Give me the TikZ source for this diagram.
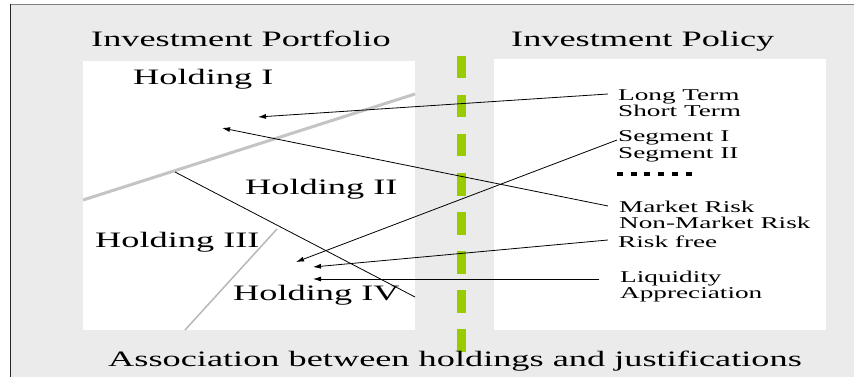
\documentclass[tikz,border=0pt]{standalone}
\usepackage{fontspec}
\setmainfont{Liberation Serif}[FakeStretch=1.65]
\usetikzlibrary{arrows.meta}
\definecolor{panel}{HTML}{EBEBEB}
\definecolor{divider}{HTML}{99CC00}
\definecolor{edgegray}{HTML}{C4C4C4}
\definecolor{thingray}{HTML}{B8B8B8}
\begin{document}
\begin{tikzpicture}[x=1pt,y=-1pt,
  big/.style={font=\fontsize{22}{26}\selectfont, inner sep=0pt, anchor=base west},
  small/.style={font=\fontsize{16.5}{17}\selectfont, inner sep=0pt, anchor=base west},
  link/.style={draw=black, line width=0.8pt, -{Latex[length=8pt,width=5pt]}},
  box/.style={fill=white, draw=none}]
\useasboundingbox (0,0) rectangle (854,377);
\fill[white] (0,0) rectangle (854,377);
% slide panel
\fill[panel] (10,4) rectangle (854,377);
\draw[gray, line width=1.5pt] (10,4.5) -- (854,4.5);
\draw[black!85, line width=1pt] (10,4) -- (10,377);
% the two white areas
\fill[box] (83,61) rectangle (415,330);
\fill[box] (494,59) rectangle (826,330);
% dashed divider
\draw[divider, line width=9pt, dash pattern=on 22.5pt off 16.5pt] (461,56) -- (461,352);
% boundaries between holdings
\draw[edgegray, line width=3pt] (83,200) -- (415,94);
\draw[black, line width=0.8pt] (175,172) -- (415,297);
\draw[thingray, line width=1.5pt] (185,330) -- (277,229);
% titles
\node[big] (tport) at (91,47) {Investment Portfolio};
\node[big] (tpol) at (511,47) {Investment Policy};
% holdings
\node[big] (h1) at (133,85) {Holding I};
\node[big] (h2) at (245,194) {Holding II};
\node[big] (h3) at (95,247) {Holding III};
\node[big] (h4) at (233,300) {Holding IV};
% justifications
\node[small] (lt) at (618,100.5) {Long Term};
\node[small] (st) at (618,116.5) {Short Term};
\node[small] (s1) at (618,142) {Segment I};
\node[small] (s2) at (618,158) {Segment II};
\draw[line width=4pt, dash pattern=on 6pt off 7.7pt] (617,174) -- (692,174);
\node[small] (mr) at (619,212) {Market Risk};
\node[small] (nmr) at (619,228) {Non-Market Risk};
\node[small] (rf) at (618,247) {Risk free};
\node[small] (liq) at (620,282) {Liquidity};
\node[small] (app) at (620,298.5) {Appreciation};
% caption
\node[big] (cap) at (108,366) {Association between holdings and justifications};
% arrow end points
\coordinate (ltS) at (608,94);
\coordinate (ltT) at (258,117);
\coordinate (mrS) at (608,206);
\coordinate (mrT) at (222,128);
\coordinate (s1S) at (617,140);
\coordinate (s1T) at (296,262);
\coordinate (rfS) at (608,240);
\coordinate (rfT) at (313,267);
\coordinate (liqS) at (599,279);
\coordinate (liqT) at (313,279);
% associations
\draw[link] (ltS) -- (ltT);
\draw[link] (mrS) -- (mrT);
\draw[link] (s1S) -- (s1T);
\draw[link] (rfS) -- (rfT);
\draw[link] (liqS) -- (liqT);
\end{tikzpicture}
\end{document}
